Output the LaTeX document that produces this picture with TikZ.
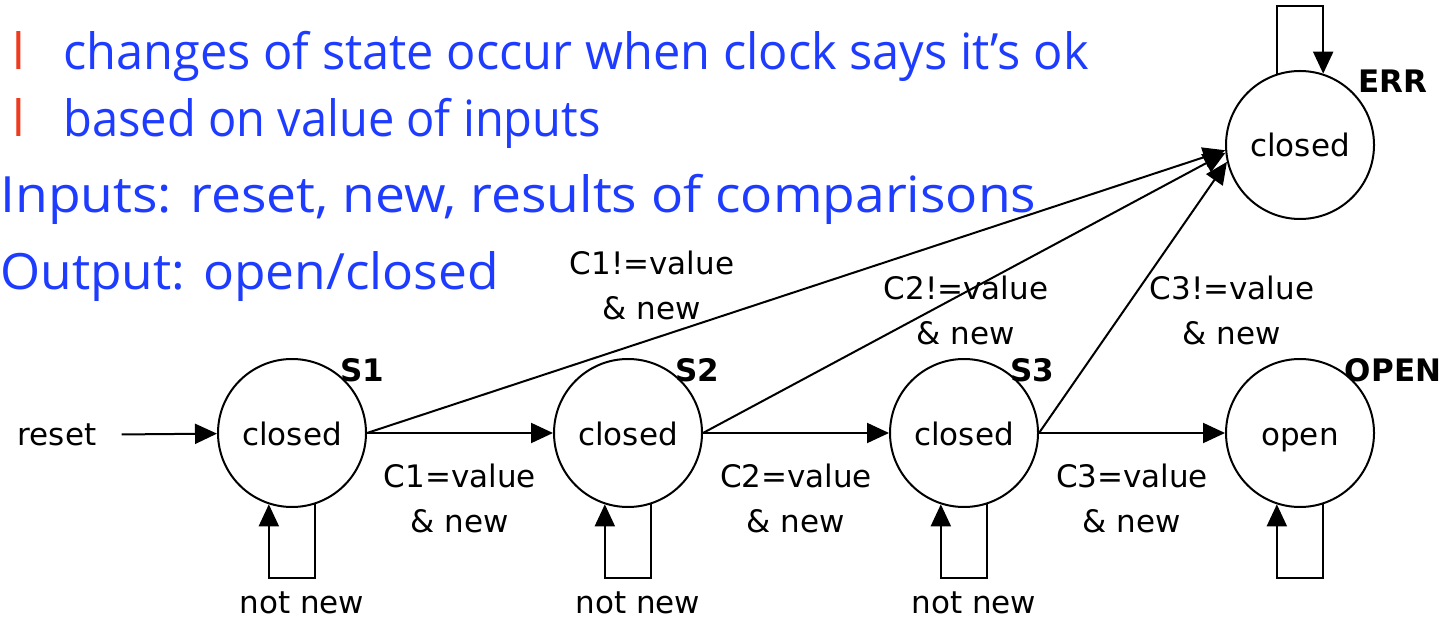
\documentclass[tikz,border=0pt]{standalone}
\usepackage{fontspec}
\setmainfont{DejaVu Sans}
\newfontfamily\slidefont{Open Sans}
\usetikzlibrary{arrows.meta,positioning}
\definecolor{fsmInk}{HTML}{000000}
\definecolor{slideBlue}{HTML}{1E3CFF}
\definecolor{slideRed}{HTML}{EE3A1E}
\tikzset{
  every picture/.style={font=\fontsize{15.5}{22.5}\selectfont, text=fsmInk},
  fsm state/.style={draw=fsmInk, circle, line width=1pt, minimum size=74pt,
    inner sep=0pt, text height=12pt, text depth=0pt},
  fsm arrow/.style={-{Triangle[length=11pt,width=10pt]}, draw=fsmInk,
    line width=1pt},
  fsm name/.style={font=\fontsize{15.5}{18}\selectfont\bfseries},
  fsm label/.style={align=center, inner sep=1pt},
  slide text/.style={font=\slidefont\fontsize{25}{28}\selectfont,
    text=slideBlue, anchor=base west, inner sep=0pt},
  slide bullet/.style={slide text, text=slideRed}
}
\begin{document}
\begin{tikzpicture}[x=0.5pt,y=-0.5pt]
  \useasboundingbox (0,0) rectangle (1454,619);
  % slide text
  \node[slide bullet] (b1) at (12,70) {l};
  \node[slide text] (t1) at (63,70) {\scalebox{0.975}[1]{changes of state occur when clock says it’s ok}};
  \node[slide bullet] (b2) at (12,137) {l};
  \node[slide text] (t2) at (63,137) {\scalebox{0.94}[1]{based on value of inputs}};
  \node[slide text] (t3) at (0,213) {\scalebox{1.068}[1]{Inputs: reset, new, results of comparisons}};
  \node[slide text] (t4) at (0,290) {\scalebox{1.03}[1]{Output: open/closed}};
  % states
  \node[fsm state] (S1) at (292,433) {closed};
  \node[fsm state] (S2) at (628,433) {closed};
  \node[fsm state] (S3) at (964,433) {closed};
  \node[fsm state] (OPEN) at (1300,433) {open};
  \node[fsm state] (ERR) at (1300,145) {closed};
  \node[fsm name] (n1) at (362,370) {S1};
  \node[fsm name] (n2) at (697,370) {S2};
  \node[fsm name] (n3) at (1032,370) {S3};
  \node[fsm name] (n4) at (1393,370) {OPEN};
  \node[fsm name] (n5) at (1393,81) {ERR};
  \node[inner xsep=12.5pt] (reset) at (57,435) {reset};
  % transitions
  \draw[fsm arrow] (reset) -- (S1);
  \draw[fsm arrow] (S1) -- (S2) node[fsm label,midway,below=14pt] {C1=value\\\& new};
  \draw[fsm arrow] (S2) -- (S3) node[fsm label,midway,below=14pt] {C2=value\\\& new};
  \draw[fsm arrow] (S3) -- (OPEN) node[fsm label,midway,below=14pt] {C3=value\\\& new};
  \draw[fsm arrow] (S1.east) -- (ERR.184);
  \draw[fsm arrow] (S2.east) -- (ERR.186);
  \draw[fsm arrow] (S3.east) -- (ERR.193);
  \node[fsm label] (e1) at (652,285) {C1!=value\\\& new};
  \node[fsm label] (e2) at (966,310) {C2!=value\\\& new};
  \node[fsm label] (e3) at (1232,310) {C3!=value\\\& new};
  % self loops
  \foreach \s in {S1,S2,S3,OPEN}
    \draw[fsm arrow] (\s.-72) -- ++(0,74) -| (\s.-108);
  \draw[fsm arrow] (ERR.108) -- ++(0,-68) -| (ERR.72);
  \node (w1) at (302,603) {not new};
  \node (w2) at (638,603) {not new};
  \node (w3) at (974,603) {not new};
\end{tikzpicture}
\end{document}
